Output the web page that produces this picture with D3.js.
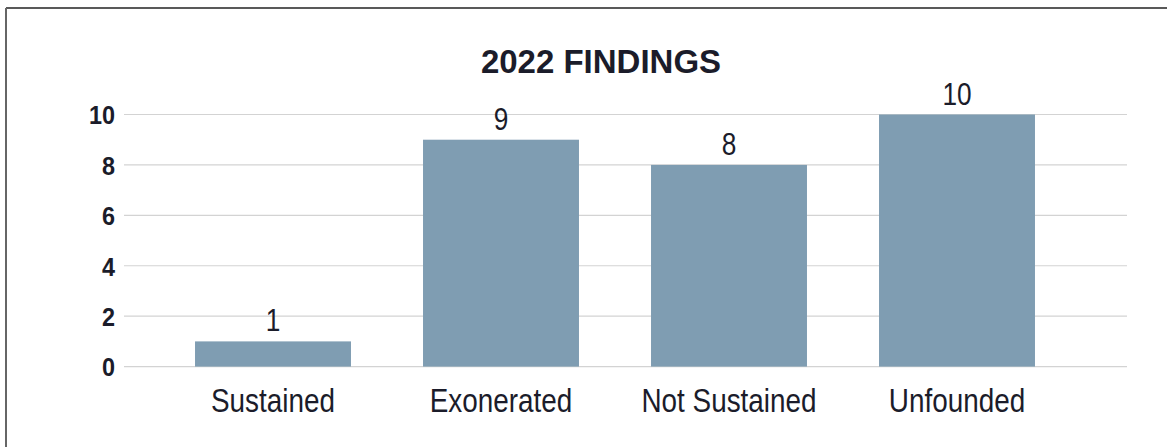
<!DOCTYPE html>
<html><head><meta charset="utf-8">
<script src="https://cdn.jsdelivr.net/npm/d3@7"></script>
<style>
html,body{margin:0;padding:0;background:#fff;}
svg{display:block;}
</style></head>
<body>
<svg id="chart" width="1167" height="447"></svg>
<script>
const categories = ["Sustained", "Exonerated", "Not Sustained", "Unfounded"];
const values = [1, 9, 8, 10];
const yTicks = [0, 2, 4, 6, 8, 10];
const title = "2022 FINDINGS";

const W = 1167, H = 447;
const svg = d3.select("#chart");
const textColor = "#1b1c2a";
const font = "'Liberation Sans', Arial, sans-serif";
const squeeze = 0.82;

// frame
svg.append("line").attr("x1", 6).attr("x2", W + 5).attr("y1", 8).attr("y2", 8)
  .attr("stroke", "#222").attr("stroke-width", 1.5);
svg.append("line").attr("x1", 6).attr("x2", 6).attr("y1", 8).attr("y2", H + 5)
  .attr("stroke", "#666").attr("stroke-width", 2);

const y = d3.scaleLinear().domain([0, 10]).range([366.6, 114.5]);
const x = d3.scaleBand().domain(categories).range([159, 1071])
  .paddingInner(0.316).paddingOuter(0.158);

// gridlines
svg.append("g").selectAll("line").data(yTicks).join("line")
  .attr("x1", 124).attr("x2", 1127)
  .attr("y1", d => y(d)).attr("y2", d => y(d))
  .attr("stroke", "#d3d3d3").attr("stroke-width", 1.2);

// y axis labels
const yAxis = d3.axisLeft(y).tickValues(yTicks).tickSize(0).tickPadding(0);
const gy = svg.append("g").attr("transform", "translate(115,0)").call(yAxis);
gy.select(".domain").remove();
gy.selectAll("text").attr("font-family", font).attr("font-weight", "bold")
  .attr("font-size", 26).attr("fill", textColor).attr("dy", "0.36em")
  .attr("transform", `scale(${0.9},1)`);

// bars
svg.append("g").selectAll("rect").data(values).join("rect")
  .attr("x", (d, i) => x(categories[i]))
  .attr("width", x.bandwidth())
  .attr("y", d => y(d))
  .attr("height", d => y(0) - y(d))
  .attr("fill", "#7f9db2");

// value labels
svg.append("g").selectAll("g").data(values).join("g")
  .attr("transform", (d, i) => `translate(${x(categories[i]) + x.bandwidth() / 2},${y(d) - 10}) scale(${squeeze},1)`)
  .append("text")
  .attr("text-anchor", "middle")
  .attr("font-family", font).attr("font-size", 32).attr("fill", textColor)
  .text(d => d);

// x axis labels
const xAxis = d3.axisBottom(x).tickSize(0).tickPadding(0);
const gx = svg.append("g").attr("transform", "translate(0,366.6)").call(xAxis);
gx.select(".domain").remove();
gx.selectAll("text").attr("font-family", font).attr("font-size", 34)
  .attr("fill", textColor).attr("dy", null).attr("y", 45)
  .attr("transform", `scale(${squeeze},1)`);

// title
svg.append("text").attr("x", 601).attr("y", 73).attr("text-anchor", "middle")
  .attr("font-family", font).attr("font-weight", "bold").attr("font-size", 33)
  .attr("fill", textColor).text(title);
</script>
</body></html>
